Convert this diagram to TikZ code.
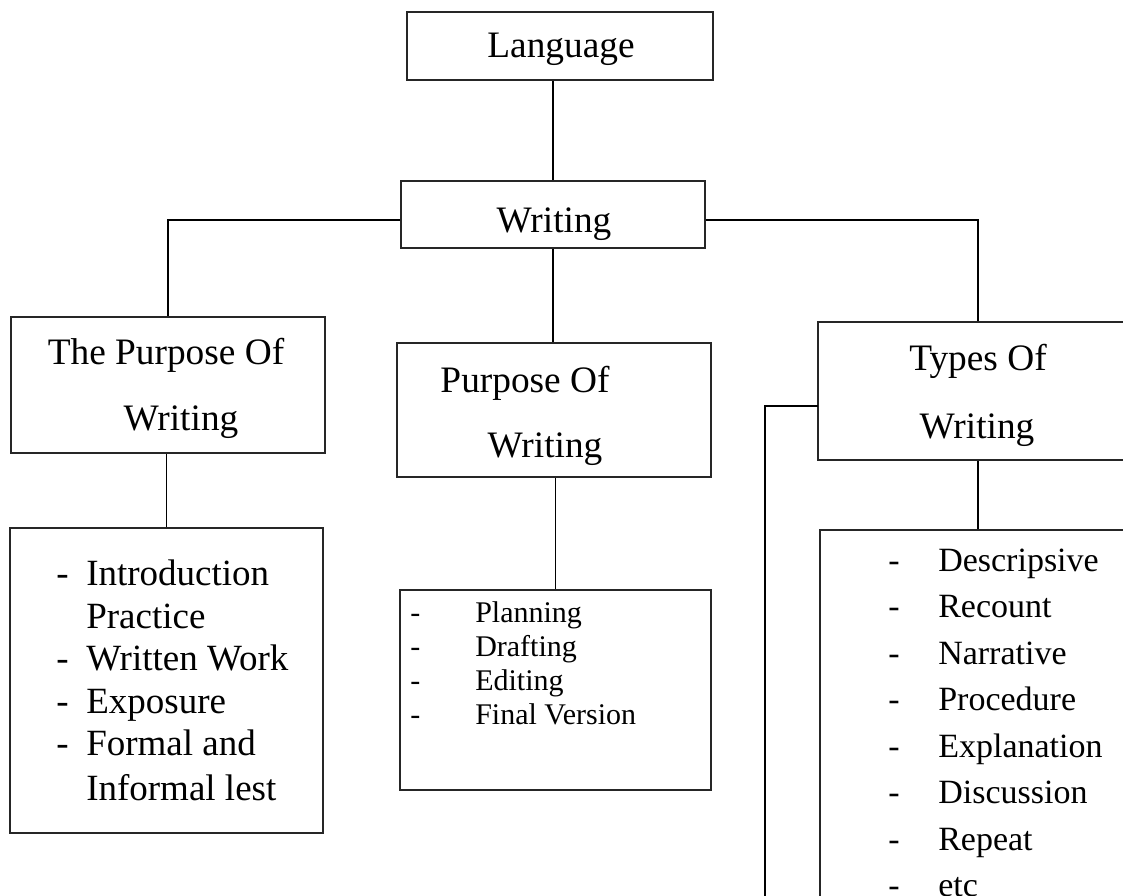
\documentclass[tikz,border=0pt]{standalone}
\usepackage{fontspec}
\setmainfont{Liberation Serif}
\usetikzlibrary{fit}
\begin{document}
\begin{tikzpicture}[x=0.75pt,y=-0.75pt,
  box/.style={draw=black!85, line width=1.1pt, inner sep=0pt},
  conn/.style={draw=black, line width=1.3pt},
  hd/.style={font=\fontsize{28}{33}\selectfont, anchor=base, inner sep=0pt},
  la/.style={font=\fontsize{27.75}{32}\selectfont, anchor=base west, inner sep=0pt},
  ma/.style={font=\fontsize{22.5}{26}\selectfont, anchor=base west, inner sep=0pt},
  ra/.style={font=\fontsize{25.5}{30}\selectfont, anchor=base west, inner sep=0pt}]
\clip (0,0) rectangle (1123,895);
\fill[white] (0,0) rectangle (1123,895);
% boxes
\node[box, fit={(407,12) (713,80)}] (lang) {};
\node[box, fit={(401,181) (705,248)}] (wri) {};
\node[box, fit={(11,317) (325,453)}] (tpw) {};
\node[box, fit={(397,343) (711,477)}] (pow) {};
\node[box, fit={(818,322) (1138,460)}] (tow) {};
\node[box, fit={(10,528) (323,833)}] (ll) {};
\node[box, fit={(400,590) (711,790)}] (ml) {};
\node[box, fit={(820,530) (1136,910)}] (rl) {};
% connectors
\coordinate (wl) at ([yshift=-4.1pt]wri.west);
\coordinate (wr) at ([yshift=-4.1pt]wri.east);
\draw[conn] (wri.north) -- (wri.north |- lang.south);
\draw[conn] (wl) -| (tpw.north);
\draw[conn] (wr) -| (tow.north);
\draw[conn] (wri.south) -- (wri.south |- pow.north);
\draw[conn] (ll.north) -- (ll.north |- tpw.south);
\draw[conn] (ml.north) -- (ml.north |- pow.south);
\draw[conn] (rl.north) -- (rl.north |- tow.south);
\coordinate (tj) at (818,406);
\coordinate (tb) at (765,900);
\draw[conn] (tj) -| (tb);
% headings
\node[hd] (tlang) at (561,58) {Language};
\node[hd] (twri) at (554,232) {Writing};
\node[hd] (t1a) at (166,364) {The Purpose Of};
\node[hd] (t1b) at (181,430) {Writing};
\node[hd] (t2a) at (525,392) {Purpose Of};
\node[hd] (t2b) at (545,457) {Writing};
\node[hd] (t3a) at (978,370) {Types Of};
\node[hd] (t3b) at (977,438) {Writing};
% left list
\node[la] (ld1) at (56,585) {-};
\node[la] (l1) at (86,585) {Introduction};
\node[la] (l2) at (86,628) {Practice};
\node[la] (ld3) at (56,670) {-};
\node[la] (l3) at (86,670) {Written Work};
\node[la] (ld4) at (56,713) {-};
\node[la] (l4) at (86,713) {Exposure};
\node[la] (ld5) at (56,755) {-};
\node[la] (l5) at (86,755) {Formal and};
\node[la] (l6) at (86,800) {Informal lest};
% middle list
\foreach \t [count=\i] in {Planning,Drafting,Editing,Final Version}{
  \node[ma] (md\i) at (410,588+34*\i) {-};
  \node[ma] (m\i) at (475,588+34*\i) {\t};
}
% right list
\foreach \t [count=\i] in {Descripsive,Recount,Narrative,Procedure,Explanation,Discussion,Repeat,etc}{
  \node[ra] (rd\i) at (888,524.5+46.5*\i) {-};
  \node[ra] (r\i) at (938,524.5+46.5*\i) {\t};
}
\end{tikzpicture}
\end{document}
